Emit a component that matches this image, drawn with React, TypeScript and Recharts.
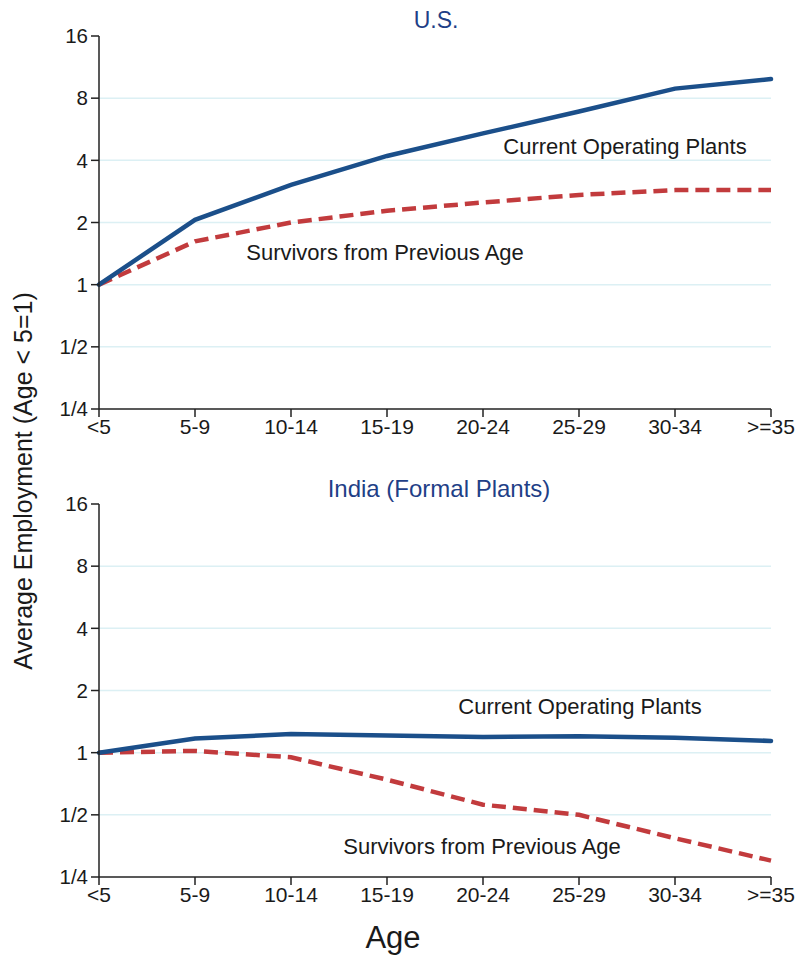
import React from 'react';
import { LineChart, Line, XAxis, YAxis, ReferenceLine } from 'recharts';

const AGE_GROUPS = ['<5', '5-9', '10-14', '15-19', '20-24', '25-29', '30-34', '>=35'];

const US_CURRENT = [1, 2.06, 3.04, 4.2, 5.4, 6.9, 8.9, 9.9];
const US_SURVIVORS = [1, 1.62, 2.0, 2.28, 2.5, 2.72, 2.87, 2.87];

const INDIA_CURRENT = [1, 1.17, 1.23, 1.21, 1.19, 1.2, 1.18, 1.14];
const INDIA_SURVIVORS = [1, 1.02, 0.95, 0.74, 0.56, 0.5, 0.385, 0.3];

const Y_TICKS = [0.25, 0.5, 1, 2, 4, 8, 16];
const Y_TICK_LABELS: Record<number, string> = {
  0.25: '1/4',
  0.5: '1/2',
  1: '1',
  2: '2',
  4: '4',
  8: '8',
  16: '16',
};
const GRID_VALUES = [0.5, 1, 2, 4, 8];

const NAVY = '#1b4f8a';
const RED = '#c23b3d';
const FONT = '"Liberation Sans", Arial, Helvetica, sans-serif';

const buildRows = (current: number[], survivors: number[]) =>
  AGE_GROUPS.map((age, i) => ({ age, current: current[i], survivors: survivors[i] }));

function Panel({ current, survivors }: { current: number[]; survivors: number[] }) {
  const data = buildRows(current, survivors);
  const axisStroke = '#222';
  return (
    <LineChart
      width={795}
      height={440}
      data={data}
      margin={{ top: 36, right: 24, bottom: 0, left: 0 }}
      style={{ fontFamily: FONT }}
    >
      {GRID_VALUES.map((v) => (
        <ReferenceLine key={v} y={v} stroke="#dcf0f4" strokeWidth={1.5} />
      ))}
      <XAxis
        dataKey="age"
        height={31}
        interval={0}
        tickSize={8}
        tickLine={{ stroke: axisStroke, strokeWidth: 1.5 }}
        axisLine={{ stroke: axisStroke, strokeWidth: 1.5 }}
        tick={{ fill: '#1a1a1a', fontSize: 21 }}
      />
      <YAxis
        scale="log"
        domain={[0.25, 16]}
        ticks={Y_TICKS}
        width={99}
        interval={0}
        tickSize={8}
        tickMargin={3}
        tickFormatter={(v: number) => Y_TICK_LABELS[v] ?? String(v)}
        tickLine={{ stroke: axisStroke, strokeWidth: 1.5 }}
        axisLine={{ stroke: axisStroke, strokeWidth: 1.5 }}
        tick={{ fill: '#1a1a1a', fontSize: 20.5 }}
        allowDataOverflow
      />
      <Line
        type="linear"
        dataKey="survivors"
        stroke={RED}
        strokeWidth={4.5}
        strokeDasharray="14 7"
        dot={false}
        isAnimationActive={false}
      />
      <Line
        type="linear"
        dataKey="current"
        stroke={NAVY}
        strokeWidth={4.5}
        strokeLinecap="round"
        dot={false}
        isAnimationActive={false}
      />
    </LineChart>
  );
}

const textStyle: React.CSSProperties = {
  position: 'absolute',
  fontFamily: FONT,
  whiteSpace: 'nowrap',
  lineHeight: 1,
};

function Note({ x, y, size, color, children }: { x: number; y: number; size: number; color: string; children: React.ReactNode }) {
  return (
    <div style={{ ...textStyle, left: x, top: y, fontSize: size, color, transform: 'translate(-50%, -50%)' }}>
      {children}
    </div>
  );
}

export default function App() {
  return (
    <div style={{ position: 'absolute', left: 0, top: 0, width: 795, height: 955, background: '#fff' }}>
      <div style={{ position: 'absolute', left: 0, top: 0 }}>
        <Panel current={US_CURRENT} survivors={US_SURVIVORS} />
      </div>
      <div style={{ position: 'absolute', left: 0, top: 468 }}>
        <Panel current={INDIA_CURRENT} survivors={INDIA_SURVIVORS} />
      </div>

      <Note x={436} y={20} size={23} color="#1f3f87">U.S.</Note>
      <Note x={439} y={489} size={24} color="#1f3f87">India (Formal Plants)</Note>

      <Note x={625} y={147} size={22} color="#1a1a1a">Current Operating Plants</Note>
      <Note x={385} y={253} size={22} color="#1a1a1a">Survivors from Previous Age</Note>
      <Note x={580} y={707} size={22} color="#1a1a1a">Current Operating Plants</Note>
      <Note x={482} y={847} size={22} color="#1a1a1a">Survivors from Previous Age</Note>

      <Note x={393} y={937} size={31} color="#1a1a1a">Age</Note>
      <div
        style={{
          ...textStyle,
          left: 23,
          top: 481,
          fontSize: 25,
          color: '#1a1a1a',
          transform: 'translate(-50%, -50%) rotate(-90deg)',
        }}
      >
        Average Employment (Age &lt; 5=1)
      </div>
    </div>
  );
}
